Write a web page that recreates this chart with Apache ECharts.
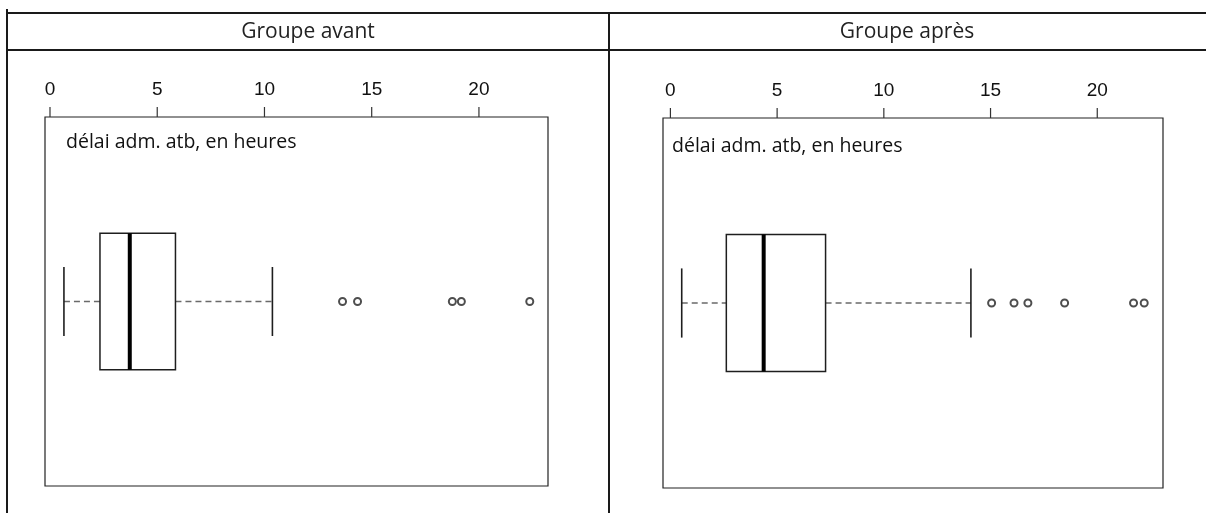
<!DOCTYPE html>
<html>
<head>
<meta charset="utf-8">
<script src="https://cdn.jsdelivr.net/npm/echarts@6/dist/echarts.min.js"></script>
<style>
html,body{margin:0;padding:0;background:#fff;}
#chart{width:1206px;height:513px;}
</style>
</head>
<body>
<div id="chart"></div>
<script>
// ---- data ----
const panelTitles = ['Groupe avant', 'Groupe après'];
const varLabel = 'délai adm. atb, en heures';
const tickValues = [0, 5, 10, 15, 20];
// five-number summaries: [whisker low, Q1, median, Q3, whisker high]
const statsAvant = [0.65, 2.33, 3.72, 5.85, 10.37];
const statsApres = [0.53, 2.62, 4.37, 7.27, 14.08];
const outliersAvant = [13.64, 14.34, 18.76, 19.18, 22.37];
const outliersApres = [15.05, 16.1, 16.75, 18.47, 21.7, 22.2];
const rangeAvant = [-0.233, 23.22];
const rangeApres = [-0.347, 23.08];

const chart = echarts.init(document.getElementById('chart'), null, {renderer: 'canvas'});

const BOX_FRAC = 0.37, CAP_FRAC = 0.187;
function renderBox(params, api) {
  const yc = api.value(5);
  const lo = api.coord([api.value(0), yc]);
  const q1 = api.coord([api.value(1), yc]);
  const md = api.coord([api.value(2), yc]);
  const q3 = api.coord([api.value(3), yc]);
  const hi = api.coord([api.value(4), yc]);
  const bh = api.size([0, BOX_FRAC])[1];
  const ch = api.size([0, CAP_FRAC])[1];
  const cy = lo[1];
  const solid = {stroke: '#1e1e1e', lineWidth: 1.6, fill: null};
  const dashed = {stroke: '#6a6a6a', lineWidth: 1.6, lineDash: [6, 4]};
  return {type: 'group', children: [
    {type: 'line', shape: {x1: lo[0], y1: cy, x2: q1[0], y2: cy}, style: dashed},
    {type: 'line', shape: {x1: q3[0], y1: cy, x2: hi[0], y2: cy}, style: dashed},
    {type: 'line', shape: {x1: lo[0], y1: cy - ch / 2, x2: lo[0], y2: cy + ch / 2}, style: solid},
    {type: 'line', shape: {x1: hi[0], y1: cy - ch / 2, x2: hi[0], y2: cy + ch / 2}, style: solid},
    {type: 'rect', shape: {x: q1[0], y: cy - bh / 2, width: q3[0] - q1[0], height: bh}, style: {stroke: '#1e1e1e', lineWidth: 1.5, fill: '#fff'}},
    {type: 'line', shape: {x1: md[0], y1: cy - bh / 2, x2: md[0], y2: cy + bh / 2}, style: {stroke: '#000', lineWidth: 4}}
  ]};
}
// tick marks drawn outward above the top edge of the plot box
function renderTick(params, api) {
  const p = api.coord([api.value(0), api.value(1)]);
  return {type: 'line', shape: {x1: p[0], y1: p[1] - 10, x2: p[0], y2: p[1]},
          style: {stroke: '#333', lineWidth: 1.2}};
}

function xAxisFor(idx, range) {
  return {
    type: 'value', gridIndex: idx, position: 'top',
    min: range[0], max: range[1],
    axisLine: {show: false},
    splitLine: {show: false},
    axisTick: {show: false},
    axisLabel: {show: true, margin: 18, fontFamily: 'Liberation Sans', fontSize: 19, color: '#111', customValues: tickValues}
  };
}
function yAxisFor(idx) {
  return {type: 'value', gridIndex: idx, min: 0, max: 1, show: false};
}

const outlierStyle = {color: '#222', borderColor: '#222', borderWidth: 0.9};
const lineStyle = {stroke: '#1a1a1a', lineWidth: 2};
const titleStyle = {fontFamily: 'Open Sans', fontSize: 21, fill: '#222', align: 'center', verticalAlign: 'middle'};
const labelStyle = {fontFamily: 'Open Sans', fontSize: 19.5, fill: '#111', align: 'left', verticalAlign: 'middle'};
const option = {
  backgroundColor: '#fff',
  animation: false,
  grid: [
    {left: 45, top: 117, width: 503, height: 369, show: true, borderColor: '#222', borderWidth: 1.2, backgroundColor: 'transparent'},
    {left: 663, top: 118, width: 500, height: 370, show: true, borderColor: '#222', borderWidth: 1.2, backgroundColor: 'transparent'}
  ],
  xAxis: [xAxisFor(0, rangeAvant), xAxisFor(1, rangeApres)],
  yAxis: [yAxisFor(0), yAxisFor(1)],
  series: [
    {type: 'custom', xAxisIndex: 0, yAxisIndex: 0, renderItem: renderBox,
     encode: {x: [0, 1, 2, 3, 4], y: 5}, data: [statsAvant.concat([0.5])], silent: true},
    {type: 'custom', xAxisIndex: 1, yAxisIndex: 1, renderItem: renderBox,
     encode: {x: [0, 1, 2, 3, 4], y: 5}, data: [statsApres.concat([0.5])], silent: true},
    {type: 'custom', xAxisIndex: 0, yAxisIndex: 0, renderItem: renderTick, clip: false,
     encode: {x: 0, y: 1}, data: tickValues.map(v => [v, 1]), silent: true},
    {type: 'custom', xAxisIndex: 1, yAxisIndex: 1, renderItem: renderTick, clip: false,
     encode: {x: 0, y: 1}, data: tickValues.map(v => [v, 1]), silent: true},
    {type: 'scatter', xAxisIndex: 0, yAxisIndex: 0, symbol: 'emptyCircle', symbolSize: 7,
     itemStyle: outlierStyle, data: outliersAvant.map(v => [v, 0.5]), silent: true, z: 5},
    {type: 'scatter', xAxisIndex: 1, yAxisIndex: 1, symbol: 'emptyCircle', symbolSize: 7,
     itemStyle: outlierStyle, data: outliersApres.map(v => [v, 0.5]), silent: true, z: 5}
  ],
  graphic: [
    {type: 'line', shape: {x1: 6, y1: 13, x2: 1206, y2: 13}, style: lineStyle},
    {type: 'line', shape: {x1: 6, y1: 50, x2: 1206, y2: 50}, style: lineStyle},
    {type: 'line', shape: {x1: 7, y1: 9, x2: 7, y2: 513}, style: lineStyle},
    {type: 'line', shape: {x1: 609, y1: 12, x2: 609, y2: 513}, style: lineStyle},
    {type: 'text', x: 308, y: 32, style: Object.assign({text: panelTitles[0]}, titleStyle)},
    {type: 'text', x: 907, y: 32, style: Object.assign({text: panelTitles[1]}, titleStyle)},
    {type: 'text', x: 66, y: 142, style: Object.assign({text: varLabel}, labelStyle)},
    {type: 'text', x: 672, y: 146, style: Object.assign({text: varLabel}, labelStyle)}
  ]
};
chart.setOption(option);
</script>
</body>
</html>
